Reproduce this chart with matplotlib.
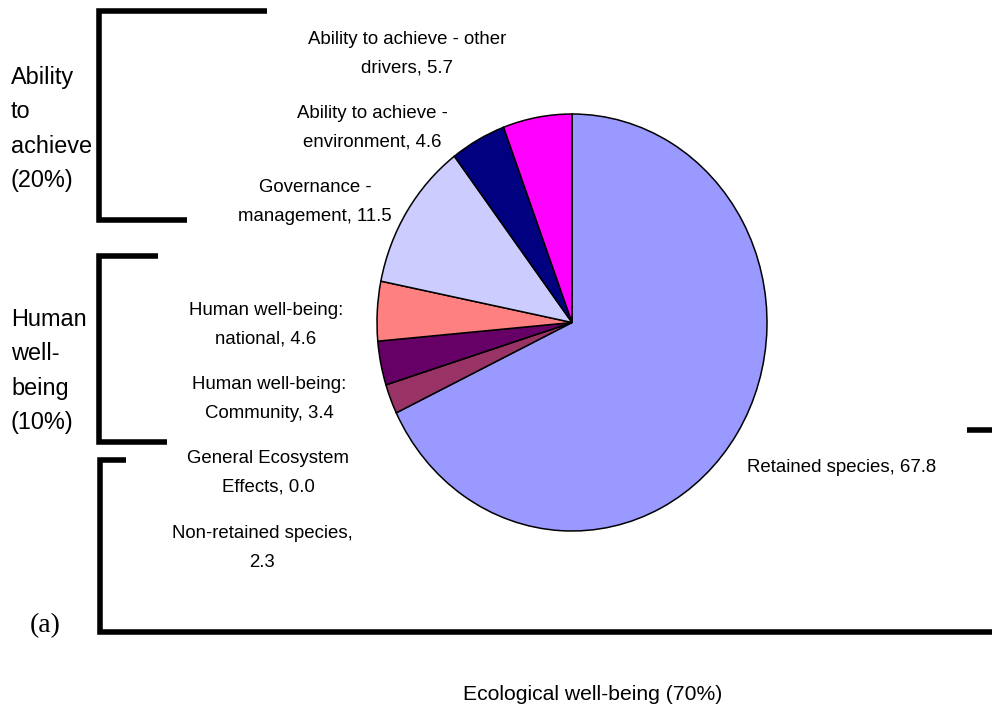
import matplotlib
matplotlib.use('Agg')
import matplotlib.pyplot as plt

# ---- data ----
categories = ["Retained species", "Non-retained species", "General Ecosystem Effects",
              "Human well-being: Community", "Human well-being: national",
              "Governance - management", "Ability to achieve - environment",
              "Ability to achieve - other drivers"]
values = [67.8, 2.3, 0.0, 3.4, 4.6, 11.5, 4.6, 5.7]
colors = ["#9999FF", "#993366", "#FFFFCC", "#660066", "#FF8080",
          "#CCCCFF", "#000080", "#FF00FF"]
# wrapped label text (as shown in the chart)
label_templates = ["Retained species, {v}",
                   "Non-retained species,\n{v}",
                   "General Ecosystem\nEffects, {v}",
                   "Human well-being:\nCommunity, {v}",
                   "Human well-being:\nnational, {v}",
                   "Governance -\nmanagement, {v}",
                   "Ability to achieve -\nenvironment, {v}",
                   "Ability to achieve - other\ndrivers, {v}"]
group_labels = ["Ability\nto\nachieve\n(20%)", "Human\nwell-\nbeing\n(10%)"]
bottom_label = "Ecological well-being (70%)"
panel_label = "(a)"

# ---- layout (pixels) ----
W, H = 992, 710
label_pos = [(842, 467), (262, 548), (268, 473), (269, 399), (266, 325),
             (315, 202), (372, 128), (407, 54)]
group_pos = [(11, 129), (11, 371)]

fig = plt.figure(figsize=(W / 100, H / 100), dpi=100)
fig.patch.set_facecolor('white')

ax0 = fig.add_axes([0, 0, 1, 1])
ax0.set_xlim(0, W)
ax0.set_ylim(H, 0)
ax0.axis('off')

cx, cy, rx, ry = 572, 322.5, 195, 208.5
axp = fig.add_axes([(cx - rx) / W, (H - (cy + ry)) / H, 2 * rx / W, 2 * ry / H])
axp.pie(values, colors=colors, startangle=90, counterclock=False,
        wedgeprops=dict(edgecolor='black', linewidth=1.1))
axp.set_aspect('auto')
axp.set_xlim(-1, 1)
axp.set_ylim(-1, 1)
axp.axis('off')

for tmpl, v, (x, y) in zip(label_templates, values, label_pos):
    ax0.text(x, y, tmpl.format(v=f"{v:.1f}"), ha='center', va='center',
             fontsize=13.4, family='Liberation Sans', linespacing=1.88, color='black')

for txt, (x, y) in zip(group_labels, group_pos):
    ax0.text(x, y, txt, ha='left', va='center', fontsize=16.9,
             family='Liberation Sans', linespacing=1.62)

ax0.text(593, 694, bottom_label, ha='center', va='center', fontsize=15.2,
         family='Liberation Sans')
ax0.text(45, 626, panel_label, ha='center', va='center', fontsize=20,
         family='Liberation Serif')

lw = 4.0
brackets = [
    [(267, 11), (98.5, 11), (98.5, 220), (187, 220)],
    [(158, 255.5), (98.5, 255.5), (98.5, 441.5), (167, 441.5)],
    [(126, 460), (99.5, 460), (99.5, 632), (992, 632)],
    [(967, 430), (992, 430)],
]
for br in brackets:
    xs = [p[0] for p in br]
    ys = [p[1] for p in br]
    ax0.plot(xs, ys, color='black', lw=lw, solid_joinstyle='miter',
             solid_capstyle='butt')

fig.savefig('out.png', dpi=100, facecolor='white')
